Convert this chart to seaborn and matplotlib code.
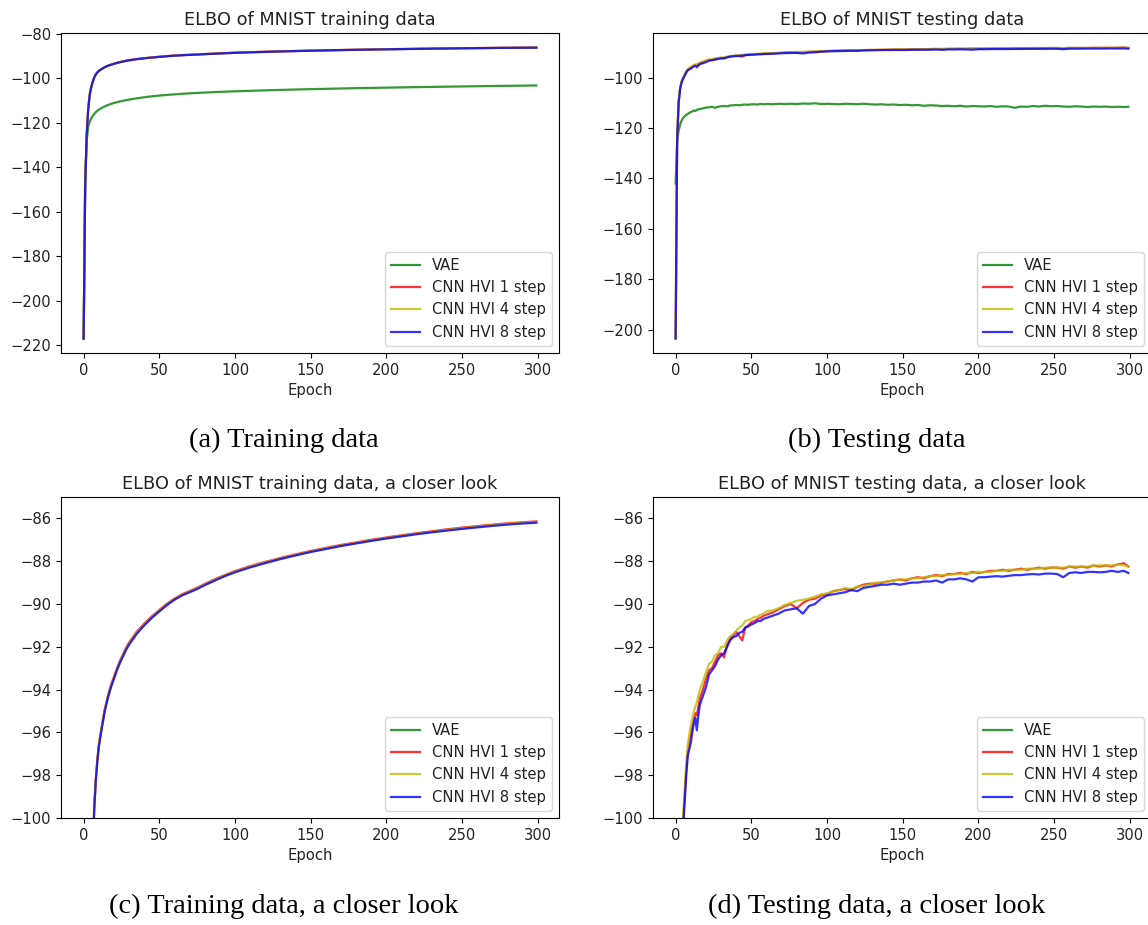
import matplotlib
matplotlib.use("Agg")
import matplotlib.pyplot as plt
import seaborn as sns
import pandas as pd

# ---------------- data ----------------
labels = ["VAE", "CNN HVI 1 step", "CNN HVI 4 step", "CNN HVI 8 step"]
colors = ["g", "r", "y", "b"]

train_epochs = [0, 1, 2, 3, 4, 5, 6, 7, 8, 9, 10, 12, 14, 16, 18, 20, 22, 24, 26, 28, 30,
                35, 40, 45, 50, 55, 60, 65, 70, 75, 80, 85, 90, 95, 100, 110, 120, 130, 140,
                150, 160, 170, 180, 190, 200, 210, 220, 230, 240, 250, 260, 270, 280, 290, 299]

train_vae = [-217, -145, -128, -122, -119.5, -118, -116.9, -116, -115.2, -114.6, -114.1,
             -113.3, -112.6, -112.0, -111.5, -111.1, -110.7, -110.4, -110.1, -109.8, -109.55,
             -109.0, -108.5, -108.1, -107.75, -107.45, -107.2, -106.95, -106.75, -106.55,
             -106.38, -106.22, -106.08, -105.95, -105.82, -105.6, -105.4, -105.2, -105.02,
             -104.86, -104.7, -104.56, -104.42, -104.3, -104.18, -104.06, -103.95, -103.84,
             -103.74, -103.64, -103.54, -103.45, -103.36, -103.28, -103.2]

train_hvi1 = [-217, -149, -125.5, -113.8, -107.3, -103.8, -101.4, -99.5, -98.2, -97.3, -96.6,
              -95.7, -94.9, -94.3, -93.8, -93.4, -93.0, -92.65, -92.35, -92.05, -91.8,
              -91.3, -90.92, -90.58, -90.28, -89.99, -89.75, -89.55, -89.39, -89.24,
              -89.06, -88.9, -88.74, -88.6, -88.46, -88.23, -88.03, -87.85, -87.68,
              -87.52, -87.38, -87.24, -87.12, -87.0, -86.89, -86.79, -86.69, -86.6,
              -86.51, -86.43, -86.36, -86.29, -86.23, -86.18, -86.14]

train_hvi4 = [-217, -149.5, -125.8, -113.9, -107.4, -103.9, -101.5, -99.55, -98.25, -97.35, -96.65,
              -95.75, -94.95, -94.35, -93.85, -93.45, -93.05, -92.7, -92.4, -92.1, -91.85,
              -91.35, -90.96, -90.62, -90.32, -90.02, -89.78, -89.58, -89.42, -89.27,
              -89.09, -88.93, -88.77, -88.63, -88.49, -88.26, -88.06, -87.88, -87.71,
              -87.55, -87.41, -87.27, -87.15, -87.03, -86.92, -86.82, -86.72, -86.63,
              -86.54, -86.46, -86.39, -86.32, -86.26, -86.21, -86.17]

train_hvi8 = [-217, -150, -126, -114, -107.5, -104, -101.6, -99.6, -98.3, -97.4, -96.7,
              -95.8, -95.0, -94.4, -93.9, -93.5, -93.1, -92.75, -92.45, -92.15, -91.9,
              -91.4, -91.0, -90.65, -90.35, -90.05, -89.8, -89.6, -89.45, -89.3,
              -89.12, -88.96, -88.8, -88.65, -88.52, -88.29, -88.09, -87.9, -87.73,
              -87.57, -87.43, -87.29, -87.17, -87.05, -86.94, -86.84, -86.74, -86.65,
              -86.57, -86.49, -86.42, -86.35, -86.29, -86.24, -86.2]

test_epochs = [0, 1, 2, 3, 4, 5, 6, 7, 8, 9, 10, 11, 12, 13, 14, 15, 16,
               18, 20, 22, 24, 26, 28, 30, 32, 34, 36, 38, 40, 42, 44, 46, 48, 50, 52, 54, 56, 58, 60,
               64, 68, 72, 76, 80, 84, 88, 92, 96, 100, 104, 108, 112, 116, 120, 124, 128, 132,
               136, 140, 144, 148, 152, 156, 160, 164, 168, 172, 176, 180, 184, 188, 192, 196,
               200, 204, 208, 212, 216, 220, 224, 228, 232, 236, 240, 244, 248, 252, 256, 260,
               264, 268, 272, 276, 280, 284, 288, 292, 296, 299]

test_vae = [-142, -125, -121, -118.5, -117, -116, -115.4, -114.8, -114.4, -114.0, -113.7, -113.4,
            -113.1, -113.3, -112.8, -112.6, -112.5,
            -112.2, -111.9, -111.8, -111.6, -112.0, -111.6, -111.4, -111.3, -111.4, -111.1, -111.0,
            -110.9, -111.0, -110.8, -110.7, -110.8, -110.6, -110.6, -110.7, -110.5, -110.6, -110.5,
            -110.6, -110.4, -110.5, -110.4, -110.5, -110.3, -110.4, -110.2, -110.5, -110.4, -110.5,
            -110.6, -110.4, -110.5, -110.6, -110.4, -110.6, -110.7, -110.6, -110.8, -110.7, -110.9,
            -110.8, -111.0, -110.9, -111.2, -111.0, -111.1, -111.3, -111.2, -111.4, -111.2, -111.5,
            -111.3, -111.4, -111.5, -111.3, -111.6, -111.4, -111.5, -112.0, -111.5, -111.6, -111.3,
            -111.5, -111.2, -111.4, -111.3, -111.5, -111.6, -111.4, -111.5, -111.7, -111.5, -111.6,
            -111.5, -111.7, -111.6, -111.7, -111.6]

test_hvi1 = [-203.5, -124, -109.5, -104, -101.5, -100.2, -99.0, -97.8, -96.9, -96.4, -96.1, -95.7,
             -95.3, -95.1, -95.2, -94.8, -94.4,
             -94.0, -93.5, -93.1, -93.0, -92.7, -92.4, -92.3, -92.5, -91.9, -91.6, -91.5, -91.3,
             -91.5, -91.7, -91.1, -91.0, -90.85, -90.8, -90.7, -90.65, -90.55, -90.5,
             -90.4, -90.25, -90.1, -90.0, -90.2, -89.95, -89.8, -89.75, -89.6, -89.55, -89.4,
             -89.35, -89.3, -89.35, -89.2, -89.1, -89.05, -89.05, -89.0, -88.95, -88.9, -88.85,
             -88.9, -88.8, -88.75, -88.8, -88.7, -88.65, -88.7, -88.6, -88.6, -88.55, -88.6,
             -88.5, -88.55, -88.5, -88.45, -88.45, -88.4, -88.45, -88.4, -88.35, -88.4, -88.35,
             -88.3, -88.35, -88.3, -88.3, -88.35, -88.25, -88.3, -88.25, -88.3, -88.2, -88.25,
             -88.2, -88.25, -88.15, -88.1, -88.25]

test_hvi4 = [-203.5, -124, -109.3, -103.8, -101.3, -99.9, -98.6, -97.4, -96.6, -96.1, -95.7, -95.4,
             -95.0, -94.8, -94.6, -94.3, -94.0,
             -93.6, -93.2, -92.8, -92.7, -92.4, -92.3, -92.0, -92.0, -91.7, -91.5, -91.4, -91.25,
             -91.1, -91.0, -90.8, -90.75, -90.7, -90.6, -90.6, -90.5, -90.45, -90.35,
             -90.3, -90.2, -90.05, -89.95, -89.85, -89.8, -89.75, -89.65, -89.55, -89.5, -89.4,
             -89.35, -89.25, -89.3, -89.2, -89.15, -89.1, -89.0, -89.0, -88.95, -88.9, -88.85,
             -88.85, -88.8, -88.8, -88.75, -88.7, -88.7, -88.65, -88.65, -88.6, -88.6, -88.55,
             -88.55, -88.5, -88.5, -88.5, -88.45, -88.45, -88.4, -88.4, -88.4, -88.35, -88.35,
             -88.35, -88.3, -88.3, -88.3, -88.3, -88.25, -88.25, -88.25, -88.25, -88.2, -88.2,
             -88.2, -88.2, -88.15, -88.2, -88.25]

test_hvi8 = [-203.5, -125, -110, -104.5, -101.8, -100.4, -99.2, -98.0, -97.1, -96.8, -96.5, -96.0,
             -95.6, -95.3, -95.9, -95.2, -94.7,
             -94.3, -93.9, -93.3, -93.1, -92.9, -92.6, -92.4, -92.3, -92.0, -91.7, -91.55, -91.5,
             -91.35, -91.3, -91.1, -91.05, -90.95, -90.9, -90.8, -90.8, -90.7, -90.65,
             -90.55, -90.45, -90.3, -90.25, -90.2, -90.45, -90.1, -90.0, -89.75, -89.6, -89.55,
             -89.5, -89.45, -89.35, -89.4, -89.25, -89.2, -89.15, -89.1, -89.1, -89.05, -89.1,
             -89.05, -89.0, -89.0, -88.95, -88.95, -88.9, -89.0, -88.85, -88.85, -88.8, -88.85,
             -88.95, -88.75, -88.75, -88.72, -88.7, -88.72, -88.68, -88.65, -88.65, -88.62, -88.6,
             -88.62, -88.58, -88.58, -88.6, -88.75, -88.55, -88.52, -88.55, -88.5, -88.5, -88.52,
             -88.5, -88.45, -88.5, -88.45, -88.55]

titles = ["ELBO of MNIST training data", "ELBO of MNIST testing data",
          "ELBO of MNIST training data, a closer look", "ELBO of MNIST testing data, a closer look"]
captions = ["(a) Training data", "(b) Testing data",
            "(c) Training data, a closer look", "(d) Testing data, a closer look"]

# ---------------- figure ----------------
W, H = 1148, 925
fig = plt.figure(figsize=(W / 100, H / 100), dpi=100)


def px_axes(left, top, width, height):
    return fig.add_axes([left / W, 1 - (top + height) / H, width / W, height / H])


axes = [px_axes(61, 33, 498, 320), px_axes(653, 33, 498, 320),
        px_axes(61, 497, 498, 321), px_axes(653, 497, 498, 321)]

train_sets = [train_vae, train_hvi1, train_hvi4, train_hvi8]
test_sets = [test_vae, test_hvi1, test_hvi4, test_hvi8]

for i, ax in enumerate(axes):
    is_train = i in (0, 2)
    ep = train_epochs if is_train else test_epochs
    sets = train_sets if is_train else test_sets
    for lab, col, vals in zip(labels, colors, sets):
        df = pd.DataFrame({"Epoch": ep, "ELBO": vals})
        sns.lineplot(data=df, x="Epoch", y="ELBO", color=col, alpha=0.8, linewidth=1.6,
                     label=lab, ax=ax)
    ax.set_title(titles[i], fontsize=12.8, color="#222222")
    ax.set_xlabel("Epoch", fontsize=10.6, color="#222222")
    ax.set_ylabel("")
    ax.set_xticks([0, 50, 100, 150, 200, 250, 300])
    ax.tick_params(labelsize=10.6, labelcolor="#222222")
    if i >= 2:
        ax.set_ylim(-100, -85)
        ax.set_yticks([-100, -98, -96, -94, -92, -90, -88, -86])
    elif i == 0:
        ax.set_yticks([-220, -200, -180, -160, -140, -120, -100, -80])
    else:
        ax.set_yticks([-200, -180, -160, -140, -120, -100])
    leg = ax.legend(loc="lower right", fontsize=10.6)
    for t in leg.get_texts():
        t.set_color("#222222")

cap_font = ["Liberation Serif", "DejaVu Serif"]
fig.text(284 / W, 1 - 440 / H, captions[0], ha="center", va="center", fontsize=20.5, family=cap_font)
fig.text(877 / W, 1 - 440 / H, captions[1], ha="center", va="center", fontsize=20.5, family=cap_font)
fig.text(284 / W, 1 - 906 / H, captions[2], ha="center", va="center", fontsize=20.5, family=cap_font)
fig.text(877 / W, 1 - 906 / H, captions[3], ha="center", va="center", fontsize=20.5, family=cap_font)

fig.savefig("out.png", dpi=100)
